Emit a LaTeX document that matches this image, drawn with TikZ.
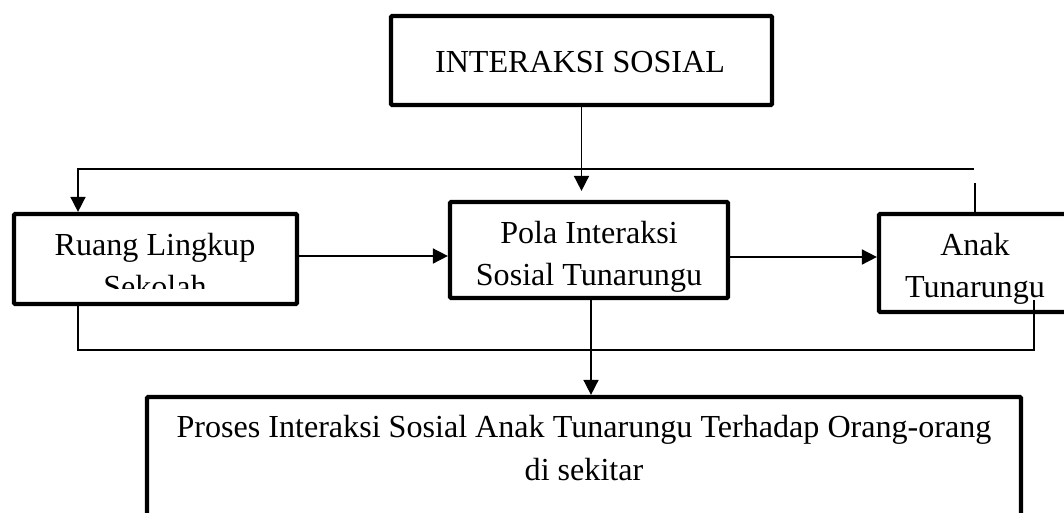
\documentclass[tikz,border=0pt]{standalone}
\usepackage{fontspec}
\setmainfont{Liberation Serif}
\usetikzlibrary{arrows.meta}
\begin{document}
\begin{tikzpicture}[x=1pt,y=-1pt,
  boxn/.style={draw, line width=4.2pt, rounded corners=1pt, inner sep=0pt},
  lbl/.style={inner sep=0pt, anchor=base, font=\fontsize{32.1}{42}\selectfont},
  conn/.style={line width=1.6pt},
  arr/.style={conn, -{Triangle[length=15pt,width=15pt]}}]
\useasboundingbox (0,0) rectangle (1064,512);
\clip (0,0) rectangle (1064,512);
\fill[white] (0,0) rectangle (1064,512);

% boxes
\node[boxn, minimum width=381pt, minimum height=89pt] (top) at (581.5,60.5) {};
\node[boxn, minimum width=283pt, minimum height=90pt] (ruang) at (155.5,259) {};
\node[boxn, minimum width=278pt, minimum height=96pt] (pola) at (589,250) {};
\node[boxn, minimum width=192pt, minimum height=98pt] (anak) at (975,263) {};
\node[boxn, minimum width=874pt, minimum height=133pt] (proses) at (584,463.5) {};

% labels
\node[lbl] (topt) at (580,72) {INTERAKSI SOSIAL};
\node[lbl] (ruangt1) at (155,255) {Ruang Lingkup};
\begin{scope}
  \clip (14,214) rectangle (297,288);
  \node[lbl] (ruangt2) at (155,297) {Sekolah};
\end{scope}
\node[lbl] (polat1) at (589,243) {Pola Interaksi};
\node[lbl] (polat2) at (589,285) {Sosial Tunarungu};
\node[lbl] (anakt1) at (975,255) {Anak};
\node[lbl] (anakt2) at (975,297) {Tunarungu};
\node[lbl] (prosest1) at (584,437) {Proses Interaksi Sosial Anak Tunarungu Terhadap Orang-orang};
\node[lbl] (prosest2) at (584,480) {di sekitar};

% coordinates for connectors
\coordinate (fbR) at (974,169);
\coordinate (fbL) at (78,169);
\coordinate (r1) at (0,256);
\coordinate (r2) at (0,257);
\coordinate (bl) at (78,350);
\coordinate (br) at (1034,350);
\coordinate (be) at (1034,300);
\coordinate (pd) at (591,0);

% connectors
\draw[arr, shorten >=9pt] (top.south) -- (top.south |- pola.north);
\draw[conn] (anak.north) -- ++(0,-29);
\draw[arr] (fbR) -- (fbL) -- (fbL |- ruang.north);
\draw[arr] (ruang.east |- r1) -- (pola.west |- r1);
\draw[arr] (pola.east |- r2) -- (anak.west |- r2);
\draw[conn] (ruang.south -| bl) -- (bl) -- (br) -- (be);
\draw[arr] (pola.south -| pd) -- (pd |- proses.north);
\end{tikzpicture}
\end{document}
